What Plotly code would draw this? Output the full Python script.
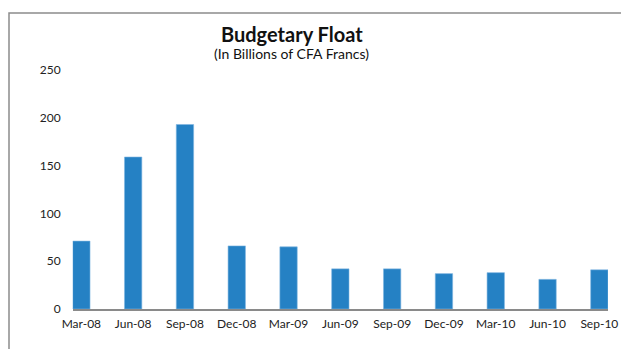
import plotly.graph_objects as go

W, H = 621, 349

quarters = ["Mar-08", "Jun-08", "Sep-08", "Dec-08", "Mar-09", "Jun-09",
            "Sep-09", "Dec-09", "Mar-10", "Jun-10", "Sep-10"]
float_bn = [71, 159, 193, 66, 65, 42, 42, 37, 38, 31, 41]
y_ticks = [0, 50, 100, 150, 200, 250]

BAR_BLUE = "#2581C4"
FRAME_GREY = "#8C8C8C"
FONT = "Lato, Open Sans, sans-serif"

fig = go.Figure(
    go.Bar(
        x=quarters,
        y=float_bn,
        marker=dict(color=BAR_BLUE, line=dict(color="#7FB6E0", width=0.6)),
        width=0.335,
    )
)

# plot area placed in pixel terms on a zero-margin page
x0, x1 = 72.7, 608.0
y_top, y_bot = 70.0, 309.0

fig.update_layout(
    width=W,
    height=H,
    margin=dict(l=0, r=0, t=0, b=0),
    paper_bgcolor="white",
    plot_bgcolor="white",
    showlegend=False,
    font=dict(family=FONT, color="#222222", size=12),
    xaxis=dict(
        domain=[x0 / W, x1 / W],
        type="category",
        range=[-0.167, 10.167],
        automargin=False,
        showgrid=False,
        showline=True,
        linecolor="#8A8A8A",
        linewidth=1.5,
        ticks="",
        tickfont=dict(size=12, family=FONT, color="#222222"),
        ticklabelstandoff=3,
        fixedrange=True,
    ),
    yaxis=dict(
        domain=[1 - y_bot / H, 1 - y_top / H],
        range=[0, 250],
        automargin=False,
        tickvals=y_ticks,
        ticktext=[str(v) for v in y_ticks],
        showgrid=False,
        showline=False,
        zeroline=False,
        ticks="",
        tickfont=dict(size=12, family=FONT, color="#222222"),
        ticklabelstandoff=11,
        fixedrange=True,
    ),
    annotations=[
        dict(
            text="<b>Budgetary Float</b>",
            x=292 / W, y=1 - 34 / H,
            xref="paper", yref="paper",
            xanchor="center", yanchor="middle",
            showarrow=False,
            font=dict(size=20, family=FONT, color="#111111"),
        ),
        dict(
            text="(In Billions of CFA Francs)",
            x=291 / W, y=1 - 53 / H,
            xref="paper", yref="paper",
            xanchor="center", yanchor="middle",
            showarrow=False,
            font=dict(size=14, family=FONT, color="#111111"),
        ),
    ],
    shapes=[
        dict(
            type="path",
            xref="paper", yref="paper",
            path=f"M {9 / W},0 L {9 / W},{1 - 13 / H} L 1,{1 - 13 / H}",
            line=dict(color=FRAME_GREY, width=1.5),
        )
    ],
)

fig.write_html("out.html")
